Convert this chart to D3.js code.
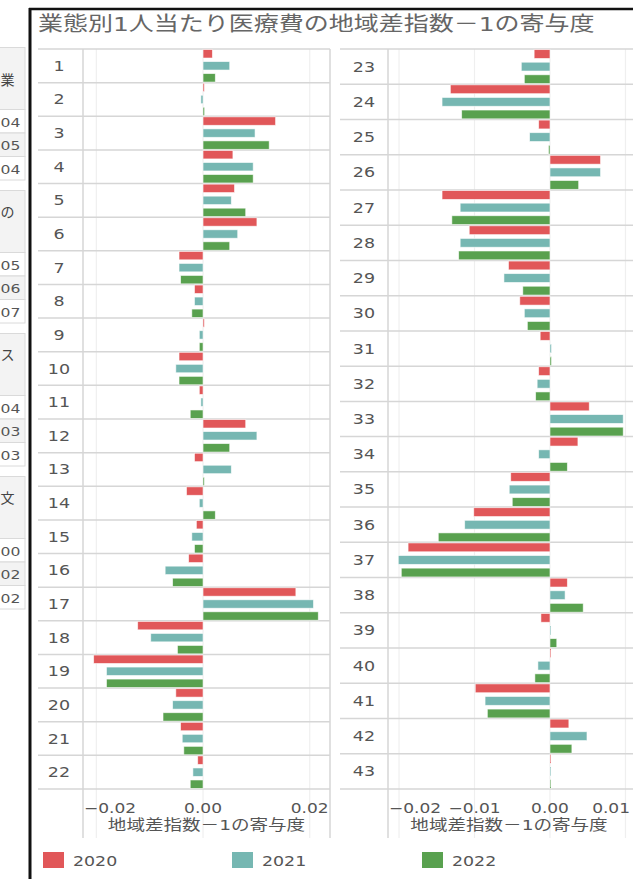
<!DOCTYPE html>
<html>
<head>
<meta charset="utf-8">
<script src="https://cdn.jsdelivr.net/npm/d3@7"></script>
<style>
body { margin: 0; background: #fff; }
svg { display: block; }
text { font-family: "DejaVu Sans", "Noto Sans CJK JP", sans-serif; fill: #555; }
</style>
</head>
<body>
<svg id="chart" width="633" height="879"></svg>
<script>
'use strict'

const categories = d3.range(1, 44).map(String)
const years = ['2020', '2021', '2022']
const colors = ['#e15759', '#76b7b2', '#59a14f']

const v2020 = [0.00175, 0.00025, 0.0136, 0.0056, 0.0059, 0.0101, -0.0045, -0.0016, 0.00025, -0.0045,
    -0.0007, 0.0080, -0.0016, -0.0031, -0.00125, -0.0027, 0.0174, -0.01225, -0.0205, -0.0051,
    -0.0042, -0.0010, -0.0021, -0.0132, -0.0015, 0.0067, -0.0143, -0.0107, -0.0055, -0.0040,
    -0.0013, -0.0015, 0.0052, 0.0037, -0.0052, -0.0101, -0.0188, 0.0023, -0.0012, 0.0001,
    -0.0099, 0.0025, 0.0001]
const v2021 = [0.0050, -0.0004, 0.00975, 0.0094, 0.0053, 0.0065, -0.0045, -0.0016, -0.0007, -0.0051,
    -0.0004, 0.0101, 0.0053, -0.0007, -0.0021, -0.0071, 0.0207, -0.0098, -0.0181, -0.0057,
    -0.0039, -0.0019, -0.0038, -0.0143, -0.0027, 0.0067, -0.0119, -0.0119, -0.0061, -0.0034,
    0.0002, -0.0017, 0.0097, -0.0015, -0.0054, -0.0113, -0.0201, 0.0020, 0.0001, -0.0016,
    -0.0086, 0.0049, 0.0001]
const v2022 = [0.0023, 0.0003, 0.0124, 0.0094, 0.0080, 0.0050, -0.0042, -0.0021, -0.0007, -0.0045,
    -0.0024, 0.0050, 0.00025, 0.0023, -0.0016, -0.0057, 0.0216, -0.0048, -0.0181, -0.0075,
    -0.0036, -0.0024, -0.0034, -0.0117, -0.0002, 0.0038, -0.0130, -0.0121, -0.0036, -0.0030,
    0.0002, -0.0019, 0.0097, 0.0023, -0.0050, -0.0148, -0.0197, 0.0044, 0.0009, -0.0020,
    -0.0083, 0.0029, 0.0001]
const series = [v2020, v2021, v2022]

const leftTicks = [-0.02, 0, 0.02]
const rightTicks = [-0.02, -0.01, 0, 0.01]

// cut-off table on the left edge of the screenshot
const sideHeads = ['業', 'の', 'ス', '文']
const sideCells = [['04', '05', '04'], ['05', '06', '07'], ['04', '03', '03'], ['00', '02', '02']]

const title = '業態別1人当たり医療費の地域差指数－1の寄与度'
const axisTitle = '地域差指数－1の寄与度'

const svg = d3.select('#chart')
const fmt = d3.format('.2f')

// the screenshot is stretched horizontally, so text gets a horizontal scale
function label(parent, str, x, y, size, sx, anchor) {
    return parent.append('text')
        .attr('transform', 'translate(' + x + ',' + y + ') scale(' + sx + ',1)')
        .attr('text-anchor', anchor || 'start')
        .attr('font-size', size)
        .text(str)
}

// side table
const side = svg.append('g')
sideHeads.forEach(function (h, g) {
    const y0 = 47.5 + g * 143
    side.append('rect')
        .attr('x', -2).attr('y', y0).attr('width', 27).attr('height', 62)
        .attr('fill', '#f3f3f3').attr('stroke', '#dadada')
    label(side, h, 0.5, y0 + (g === 0 ? 37 : 26), 14, 1, 'start').style('fill', '#444')
    sideCells[g].forEach(function (c, i) {
        const y = y0 + 62 + i * 23.5
        side.append('rect')
            .attr('x', -2).attr('y', y).attr('width', 27).attr('height', 23.5)
            .attr('fill', i === 1 ? '#f3f3f3' : '#fff').attr('stroke', '#dadada')
        label(side, c, 0.5, y + 17, 13, 1.2, 'start')
    })
})

// frame
svg.append('line').attr('x1', 30).attr('x2', 30).attr('y1', 8).attr('y2', 879)
    .attr('stroke', '#111').attr('stroke-width', 3)
svg.append('line').attr('x1', 29).attr('x2', 633).attr('y1', 9).attr('y2', 9)
    .attr('stroke', '#111').attr('stroke-width', 2.5)

label(svg, title, 38, 31, 20, 1.25).style('fill', '#666')

const plotTop = 49
const plotBottom = 789

const panels = [
    {cats: categories.slice(0, 22), lx0: 38, lc: 59, px0: 83, px1: 330, lineEnd: 330,
        domain: [-0.0225, 0.0238], ticks: leftTicks},
    {cats: categories.slice(22), lx0: 340, lc: 364, px0: 388, px1: 630, lineEnd: 633,
        domain: [-0.02146, 0.0106], ticks: rightTicks},
]

panels.forEach(function (p) {
    const g = svg.append('g')
    const x = d3.scaleLinear().domain(p.domain).range([p.px0, p.px1])
    const y = d3.scaleBand().domain(p.cats).range([plotTop, plotBottom])
    const inner = d3.scaleBand().domain(years).range([0, y.bandwidth()])
        .paddingInner(0.3).paddingOuter(0.05)

    // gridlines
    g.selectAll('.grid').data(p.ticks).enter().append('line')
        .attr('x1', function (d) { return x(d) }).attr('x2', function (d) { return x(d) })
        .attr('y1', plotTop).attr('y2', 838)
        .attr('stroke', '#efefef').attr('stroke-width', 1.2)

    // row separators
    g.selectAll('.row').data(p.cats.concat(['end'])).enter().append('line')
        .attr('x1', p.lx0).attr('x2', p.lineEnd)
        .attr('y1', function (d, i) { return plotTop + i * y.bandwidth() })
        .attr('y2', function (d, i) { return plotTop + i * y.bandwidth() })
        .attr('stroke', '#d6d6d6').attr('stroke-width', 1.5)

    // column borders
    g.append('line').attr('x1', p.px0).attr('x2', p.px0).attr('y1', plotTop).attr('y2', 838)
        .attr('stroke', '#d6d6d6').attr('stroke-width', 1.5)
    if (p.lineEnd === p.px1) {
        g.append('line').attr('x1', p.px1).attr('x2', p.px1).attr('y1', plotTop).attr('y2', 838)
            .attr('stroke', '#d6d6d6').attr('stroke-width', 1.5)
    }

    // row labels
    p.cats.forEach(function (c) {
        label(g, c, p.lc, y(c) + y.bandwidth() / 2 + 5, 14, 1.25, 'middle')
    })

    // bars
    const idx = p.cats.map(function (c) { return categories.indexOf(c) })
    years.forEach(function (yr, k) {
        g.selectAll('.bar' + yr).data(idx).enter().append('rect')
            .attr('x', function (i) { return x(Math.min(0, series[k][i])) })
            .attr('width', function (i) { return Math.max(1, Math.abs(x(series[k][i]) - x(0))) })
            .attr('y', function (i) { return y(categories[i]) + inner(yr) })
            .attr('height', inner.bandwidth())
            .attr('fill', colors[k])
            .attr('stroke', 'rgba(255,255,255,0.7)').attr('stroke-width', 0.8)
    })

    // tick labels, kept inside the pane like the original
    p.ticks.forEach(function (t) {
        const tx = label(g, fmt(t), x(t), 813, 13.5, 1.26, 'middle')
        const w = tx.node().getBBox().width * 1.26
        let cx = x(t)
        if (cx - w / 2 < p.px0 + 1) cx = p.px0 + 1 + w / 2
        if (cx + w / 2 > p.px1) cx = p.px1 - w / 2
        tx.attr('transform', 'translate(' + cx + ',813) scale(1.26,1)')
    })

    label(g, axisTitle, (p.px0 + p.px1) / 2, 830, 14.5, 1.28, 'middle')
})

// legend
const legendX = [43, 232, 422]
years.forEach(function (yr, k) {
    svg.append('rect')
        .attr('x', legendX[k]).attr('y', 852).attr('width', 21).attr('height', 16)
        .attr('fill', colors[k])
    label(svg, yr, legendX[k] + 30, 866, 14.5, 1.2)
})
</script>
</body>
</html>
